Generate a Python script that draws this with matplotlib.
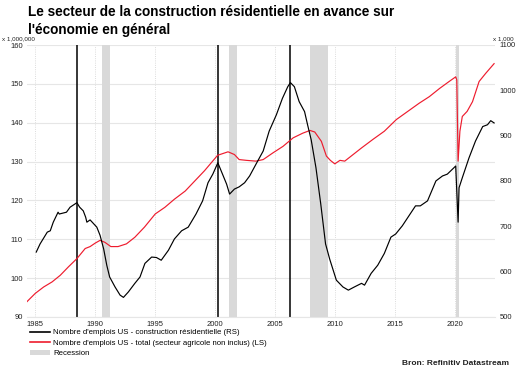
import matplotlib
matplotlib.use("Agg")
import matplotlib.pyplot as plt
from matplotlib.lines import Line2D
from matplotlib.patches import Patch

plt.rcParams["font.family"] = ["Liberation Sans", "DejaVu Sans"]

# Total US nonfarm employment (millions, left scale)
total_years = [1984.3, 1985.0, 1985.7, 1986.4, 1987.08, 1987.77, 1988.47, 1989.16, 1989.57,
               1990.0, 1990.4, 1990.8, 1991.3, 1991.9, 1992.6, 1993.3, 1994.1, 1995.0,
               1995.8, 1996.6, 1997.5, 1998.3, 1999.1, 2000.2, 2001.07, 2001.6, 2002.0,
               2002.6, 2003.4, 2004.0, 2004.8, 2005.65, 2006.5, 2007.3, 2007.9, 2008.3,
               2008.85, 2009.27, 2009.6, 2009.97, 2010.4, 2010.8, 2011.5, 2012.2, 2013.15,
               2014.1, 2015.1, 2016.05, 2017.0, 2017.85, 2018.7, 2019.5, 2020.05, 2020.14,
               2020.25, 2020.4, 2020.6, 2021.0, 2021.45, 2022.0, 2022.55, 2023.25]
total_jobs = [93.9, 96.05, 97.7, 99.0, 100.7, 102.9, 105.0, 107.6, 108.1,
              109.0, 109.7, 109.2, 108.1, 108.1, 108.8, 110.5, 113.1, 116.5,
              118.2, 120.3, 122.4, 125.0, 127.6, 131.6, 132.5, 131.8, 130.5,
              130.3, 130.1, 130.5, 132.2, 133.9, 136.1, 137.3, 138.0, 137.6,
              135.2, 131.4, 130.3, 129.4, 130.3, 130.1, 131.8, 133.5, 135.7,
              137.8, 140.8, 142.9, 145.0, 146.7, 148.8, 150.6, 151.8, 151.0,
              130.1, 137.8, 141.6, 142.9, 145.4, 150.6, 152.7, 155.2]

# Residential construction employment (thousands, right scale)
res_years = [1985.08, 1985.4, 1986.0, 1986.25, 1986.5, 1986.9, 1987.0, 1987.6, 1987.9,
             1988.47, 1988.7, 1989.0, 1989.2, 1989.3, 1989.57, 1989.85, 1990.13, 1990.4,
             1990.7, 1990.96, 1991.2, 1991.65, 1992.07, 1992.35, 1992.76, 1993.3, 1993.73,
             1994.14, 1994.7, 1995.1, 1995.5, 1996.1, 1996.6, 1997.2, 1997.75, 1998.4,
             1998.95, 1999.4, 1999.8, 2000.22, 2000.5, 2000.95, 2001.2, 2001.6, 2002.0,
             2002.45, 2002.87, 2003.4, 2004.0, 2004.5, 2005.1, 2005.6, 2006.05, 2006.27,
             2006.6, 2007.0, 2007.45, 2007.7, 2008.0, 2008.4, 2008.8, 2009.2, 2009.55,
             2010.1, 2010.65, 2011.1, 2011.6, 2012.2, 2012.45, 2013.0, 2013.55, 2014.1,
             2014.65, 2015.05, 2015.6, 2016.15, 2016.7, 2017.1, 2017.7, 2018.4, 2018.95,
             2019.35, 2019.9, 2020.05, 2020.25, 2020.33, 2020.6, 2021.16, 2021.7, 2022.3,
             2022.7, 2022.97, 2023.25]
res_jobs = [643, 661, 687, 690, 709, 731, 727, 731, 742,
            752, 742, 734, 720, 709, 714, 706, 698, 680,
            650, 614, 588, 566, 548, 543, 555, 574, 588,
            618, 632, 631, 625, 647, 672, 690, 698, 727,
            756, 796, 815, 840, 822, 793, 771, 782, 787,
            796, 811, 837, 866, 910, 946, 982, 1008, 1017,
            1008, 975, 953, 924, 891, 829, 749, 661, 627,
            581, 566, 559, 566, 574, 570, 596, 614, 640,
            676, 683, 701, 723, 745, 745, 756, 800, 811,
            815, 829, 833, 709, 785, 807, 851, 888, 920,
            924, 933, 928]

recessions = [(1990.54, 1991.2), (2001.15, 2001.8), (2007.9, 2009.4), (2020.08, 2020.3)]
peaks = [1988.47, 2000.22, 2006.27]

fig = plt.figure(figsize=(5.17, 3.75), dpi=100)
ax = fig.add_axes([0.052, 0.155, 0.906, 0.725])
ax2 = ax.twinx()

for a, b in recessions:
    ax.axvspan(a, b, color="#d9d9d9", lw=0, zorder=1)
for p in peaks:
    ax.axvline(p, color="black", lw=1.1, zorder=2)

ax.plot(total_years, total_jobs, color="#ee1c2e", lw=0.85, zorder=3)
ax2.plot(res_years, res_jobs, color="black", lw=0.85, zorder=3)

ax.set_xlim(1984.3, 2023.35)
ax.set_ylim(90, 160)
ax2.set_ylim(500, 1100)
ax.set_xticks(range(1985, 2021, 5))
ax.set_yticks(range(90, 161, 10))
ax2.set_yticks(range(500, 1101, 100))

ax.grid(axis="y", color="#e6e6e6", lw=0.8, zorder=0)
ax.grid(axis="x", color="#d0d0d0", lw=0.6, ls=":", zorder=0)
ax.set_axisbelow(True)

for a in (ax, ax2):
    for s in a.spines.values():
        s.set_visible(False)
ax.spines["bottom"].set_visible(True)
ax.spines["bottom"].set_color("#e6e6e6")
ax.tick_params(axis="both", length=0, labelsize=5.5, colors="#222222", pad=3)
ax2.tick_params(axis="y", length=0, labelsize=5.5, colors="#222222", pad=3)

fig.text(0.004, 0.893, "x 1,000,000", fontsize=4.5, color="#222222")
fig.text(0.953, 0.893, "x 1,000", fontsize=4.5, color="#222222")

fig.text(0.054, 0.988, "Le secteur de la construction résidentielle en avance sur\nl'économie en général",
         fontsize=9.8, fontweight="bold", va="top", ha="left", linespacing=1.45)

handles = [Line2D([], [], color="black", lw=1.2),
           Line2D([], [], color="#ee1c2e", lw=1.2),
           Patch(facecolor="#d9d9d9", edgecolor="none")]
labels = ["Nombre d'emplois US - construction résidentielle (RS)",
          "Nombre d'emplois US - total (secteur agricole non inclus) (LS)",
          "Recession"]
fig.legend(handles, labels, loc="upper left", bbox_to_anchor=(0.058, 0.123),
           frameon=False, fontsize=5.6, handlelength=2.6, handletextpad=0.35,
           labelspacing=0.4, borderaxespad=0, borderpad=0)

fig.text(0.985, 0.022, "Bron: Refinitiv Datastream", fontsize=6, fontweight="bold",
         ha="right", va="bottom", color="#222222")

fig.savefig("out.png", dpi=100)
